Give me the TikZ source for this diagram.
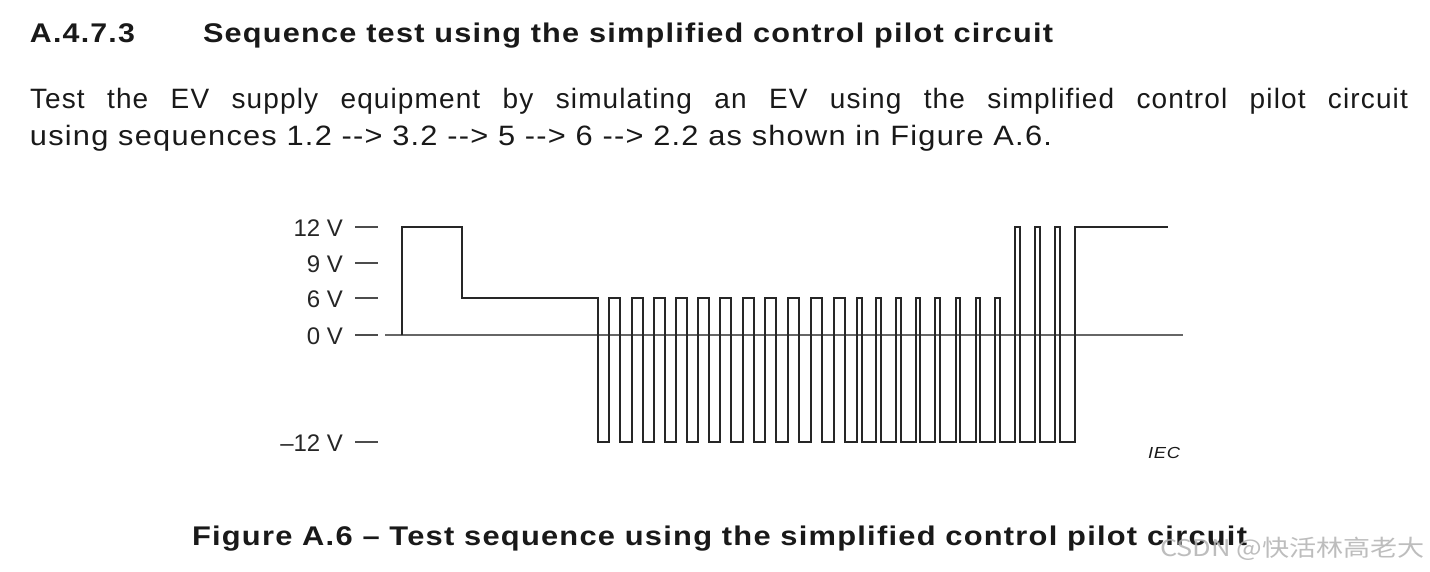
\documentclass[tikz,border=0pt]{standalone}
\usepackage{fontspec}
\usepackage{graphicx}
\setmainfont{Liberation Sans}
\newfontfamily\lsp{Liberation Sans}[LetterSpace=4]
\newfontfamily\cjkfont{Noto Sans CJK SC}
\tikzset{
  txt/.style={inner sep=0pt, outer sep=0pt, text=black!90},
  lbl/.style={inner sep=0pt, outer sep=0pt, anchor=base east, text=black!85, font=\fontsize{24}{28}\selectfont},
  tick/.style={line width=1.4pt, draw=black!70},
  axisline/.style={line width=1.6pt, draw=black!60},
  wave/.style={line width=2pt, draw=black!85, line join=miter}
}
\begin{document}
\begin{tikzpicture}[x=1pt,y=-1pt]
\fill[white] (0,0) rectangle (1430,571);
\useasboundingbox (0,0) rectangle (1430,571);

% heading
\node[txt, anchor=base west] (secnum) at (30,42) {\fontsize{27}{32}\selectfont\resizebox{105pt}{\height}{\lsp\bfseries A.4.7.3}};
\node[txt, anchor=base west] (sectitle) at (203,42) {\fontsize{27}{32}\selectfont\resizebox{850pt}{\height}{\lsp\bfseries Sequence test using the simplified control pilot circuit}};

% body
\node[txt, anchor=base west] (body1) at (30,108) {\fontsize{28}{32}\selectfont\lsp\makebox[1378pt][s]{Test the EV supply equipment by simulating an EV using the simplified control pilot circuit}};
\node[txt, anchor=base west] (body2) at (30,145) {\fontsize{28}{32}\selectfont\resizebox{1022pt}{\height}{\lsp using sequences 1.2 -{}-> 3.2 -{}-> 5 -{}-> 6 -{}-> 2.2 as shown in Figure A.6.}};

% level ticks
\foreach \yy/\nm in {227/t12,263/t9,298/t6,335/t0,442/tm12}{
  \coordinate (\nm a) at (355,\yy);
  \coordinate (\nm b) at (378,\yy);
  \draw[tick] (\nm a) -- (\nm b);
}
\node[lbl] (l12) at (343,236) {12 V};
\node[lbl] (l9) at (343,272) {9 V};
\node[lbl] (l6) at (343,307) {6 V};
\node[lbl] (l0) at (343,344) {0 V};
\node[lbl] (lm12) at (343,451) {–12 V};

% zero axis
\coordinate (ax0) at (385,335);
\coordinate (ax1) at (1183,335);
\draw[axisline] (ax0) -- (ax1);

% waveform
\draw[wave] (401.7,335) -- (401.7,227) -- (461.7,227) -- (461.7,298) -- (598.3,298) -- (598.3,442)
  \foreach \a in {609.3,631.7,654,676,698.3,720.3,742.7,765,788.3,810.7,834} { -- (\a,442) -- (\a,298) -- (\a+11,298) -- (\a+11,442) }
  \foreach \a in {857,876,896,915.5,935,955.5,975.5,995} { -- (\a,442) -- (\a,298) -- (\a+4.6,298) -- (\a+4.6,442) }
  \foreach \a in {1015.3,1035.3,1055.3} { -- (\a,442) -- (\a,227) -- (\a+4.7,227) -- (\a+4.7,442) }
  -- (1075.3,442) -- (1075.3,227) -- (1167.7,227);

\node[txt, anchor=base west] (iec) at (1148,458) {\fontsize{16}{18}\selectfont\resizebox{32pt}{\height}{\lsp\itshape IEC}};

% caption
\node[txt, anchor=base west] (caption) at (192,545) {\fontsize{27}{32}\selectfont\resizebox{1055pt}{\height}{\lsp\bfseries Figure A.6 – Test sequence using the simplified control pilot circuit}};

% watermark
\node[txt, anchor=base west, text=black!30, opacity=0.85] (wm) at (1160,556) {\fontsize{23}{28}\selectfont\resizebox{265pt}{\height}{\cjkfont CSDN @快活林高老大}};
\end{tikzpicture}
\end{document}
